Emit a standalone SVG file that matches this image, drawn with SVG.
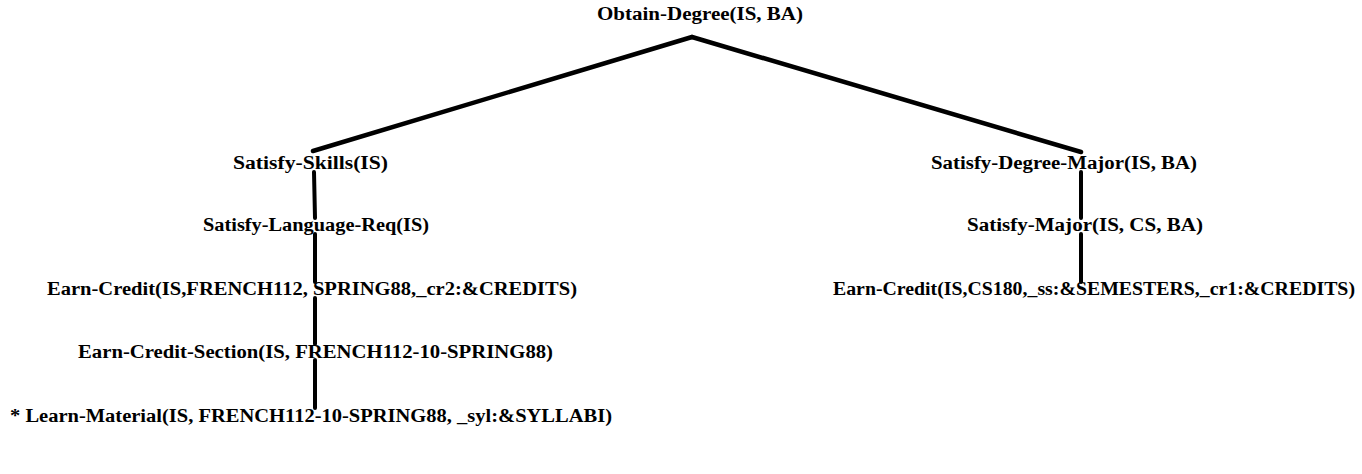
<svg xmlns="http://www.w3.org/2000/svg" width="1362" height="474" viewBox="0 0 1362 474">
<style>
text{font-family:"Liberation Serif","DejaVu Serif",serif;font-weight:bold;font-size:18px;fill:#000}
.c line{stroke:#000;stroke-linecap:round}
.b{stroke-width:4.5}
.v{stroke-width:4}
</style>
<rect width="1362" height="474" fill="#fff"/>
<g class="c" id="connectors">
<line class="b" x1="692" y1="37" x2="313" y2="151"/>
<line class="b" x1="692" y1="37" x2="1081" y2="152"/>
<line class="v" x1="314" y1="172" x2="315" y2="218"/>
<line class="v" x1="315" y1="234" x2="315" y2="282"/>
<line class="v" x1="315" y1="298" x2="315" y2="344"/>
<line class="v" x1="315" y1="360" x2="315" y2="408"/>
<line class="v" x1="1081" y1="172" x2="1081" y2="218"/>
<line class="v" x1="1081" y1="234" x2="1081" y2="282"/>
</g>
<g id="n-obtain"><text x="597" y="20" textLength="206" lengthAdjust="spacingAndGlyphs">Obtain-Degree(IS, BA)</text></g>
<g id="n-skills"><text x="233" y="169" textLength="155" lengthAdjust="spacingAndGlyphs">Satisfy-Skills(IS)</text></g>
<g id="n-lang"><text x="203" y="231" textLength="226" lengthAdjust="spacingAndGlyphs">Satisfy-Language-Req(IS)</text></g>
<g id="n-ec1"><text x="47" y="295" textLength="530" lengthAdjust="spacingAndGlyphs">Earn-Credit(IS,FRENCH112, SPRING88,_cr2:&amp;CREDITS)</text></g>
<g id="n-ecs"><text x="78" y="358" textLength="475" lengthAdjust="spacingAndGlyphs">Earn-Credit-Section(IS, FRENCH112-10-SPRING88)</text></g>
<g id="n-learn"><text x="10" y="422" textLength="602" lengthAdjust="spacingAndGlyphs">* Learn-Material(IS, FRENCH112-10-SPRING88, _syl:&amp;SYLLABI)</text></g>
<g id="n-sdm"><text x="931" y="169" textLength="266" lengthAdjust="spacingAndGlyphs">Satisfy-Degree-Major(IS, BA)</text></g>
<g id="n-sm"><text x="967" y="231" textLength="236" lengthAdjust="spacingAndGlyphs">Satisfy-Major(IS, CS, BA)</text></g>
<g id="n-ec2"><text x="833" y="295" textLength="522" lengthAdjust="spacingAndGlyphs">Earn-Credit(IS,CS180,_ss:&amp;SEMESTERS,_cr1:&amp;CREDITS)</text></g>
</svg>
